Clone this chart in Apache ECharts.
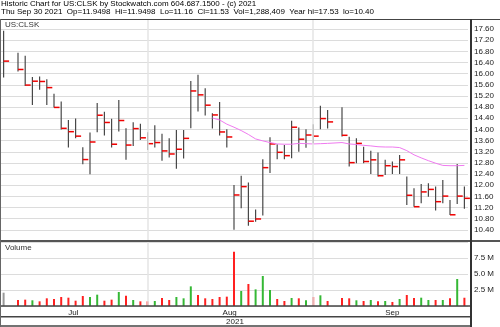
<!DOCTYPE html>
<html>
<head>
<meta charset="utf-8">
<script src="https://cdn.jsdelivr.net/npm/echarts@6/dist/echarts.min.js"></script>
<style>
html,body{margin:0;padding:0;background:#fff;}
#chart{width:500px;height:327px;}
</style>
</head>
<body>
<div id="chart"></div>
<script>
// Trading-day slots (weekdays), 2021-07-02 .. 2021-09-30
const categories = [
 '2021-07-02','2021-07-05','2021-07-06','2021-07-07','2021-07-08','2021-07-09',
 '2021-07-12','2021-07-13','2021-07-14','2021-07-15','2021-07-16',
 '2021-07-19','2021-07-20','2021-07-21','2021-07-22','2021-07-23',
 '2021-07-26','2021-07-27','2021-07-28','2021-07-29','2021-07-30',
 '2021-08-02','2021-08-03','2021-08-04','2021-08-05','2021-08-06',
 '2021-08-09','2021-08-10','2021-08-11','2021-08-12','2021-08-13',
 '2021-08-16','2021-08-17','2021-08-18','2021-08-19','2021-08-20',
 '2021-08-23','2021-08-24','2021-08-25','2021-08-26','2021-08-27',
 '2021-08-30','2021-08-31',
 '2021-09-01','2021-09-02','2021-09-03',
 '2021-09-06','2021-09-07','2021-09-08','2021-09-09','2021-09-10',
 '2021-09-13','2021-09-14','2021-09-15','2021-09-16','2021-09-17',
 '2021-09-20','2021-09-21','2021-09-22','2021-09-23','2021-09-24',
 '2021-09-27','2021-09-28','2021-09-29','2021-09-30'
];
const highs = [
 17.54,null,16.75,16.64,15.88,15.90,15.80,15.28,15.00,14.34,14.39,13.36,13.89,14.95,14.63,14.38,15.06,14.04,14.26,14.20,13.90,
 14.15,13.85,13.68,13.98,13.98,15.74,15.96,15.48,14.58,14.98,14.01,12.01,12.34,12.10,11.13,12.93,13.72,13.47,13.44,14.31,14.07,14.01,
 14.19,14.85,14.70,null,14.80,13.74,13.68,13.38,13.24,13.17,12.91,12.85,13.08,12.31,11.89,12.04,12.07,11.95,12.19,11.47,12.76,11.95
];
const lows = [
 15.86,null,16.08,15.56,14.88,15.42,14.88,14.79,14.00,13.35,13.68,12.75,12.39,13.90,13.78,13.35,13.93,12.91,13.41,13.62,13.26,
 13.35,12.88,12.99,12.59,12.96,14.04,14.64,14.50,14.03,13.78,13.35,10.40,11.17,10.55,10.69,10.91,12.44,12.93,12.93,12.97,13.20,13.34,
 13.50,14.01,14.03,null,13.75,12.67,12.79,12.79,12.40,12.31,12.37,12.40,12.40,11.29,11.23,11.35,11.59,11.09,11.35,10.93,11.33,11.16
];
const closes = [
 16.45,null,16.15,15.59,15.73,15.72,15.50,14.79,14.04,13.92,13.76,12.92,13.55,14.51,14.25,13.47,14.32,13.44,14.03,13.70,13.49,
 13.53,13.23,13.12,13.29,13.68,15.38,15.24,14.87,14.52,13.91,13.73,11.65,11.95,10.71,10.79,12.63,13.48,13.18,13.06,14.08,13.65,13.80,
 13.76,14.39,14.27,null,13.79,12.81,13.50,12.85,12.91,12.34,12.70,12.67,12.91,11.64,11.23,11.76,11.85,11.41,11.61,10.94,11.61,11.53
];
const movingAvg = [
 null,null,null,null,null,null,null,null,null,null,null,null,null,null,null,null,null,null,null,null,null,
 null,null,null,null,null,null,null,null,14.41,14.34,14.19,14.08,13.96,13.82,13.66,13.59,13.53,13.48,13.47,13.47,13.50,13.49,
 13.48,13.49,13.50,null,13.53,13.48,13.46,13.43,13.41,13.38,13.37,13.37,13.35,13.24,13.09,12.98,12.88,12.79,12.71,12.70,12.70,12.71
];
// volume in millions of shares
const volumes = [
 2.08,null,0.94,0.99,0.89,0.73,1.20,1.09,1.41,1.30,0.83,1.56,1.41,1.77,0.83,0.99,2.19,1.61,0.94,0.73,0.73,
 0.78,1.25,0.94,1.41,1.20,3.07,1.72,1.20,1.09,1.41,1.46,8.49,2.34,3.44,2.60,4.69,2.50,1.09,0.78,1.25,1.20,0.89,
 1.41,1.67,0.78,null,1.25,1.20,0.89,0.78,0.94,0.73,0.78,0.63,1.09,1.72,1.25,1.30,0.94,0.94,0.94,1.20,4.22,1.29
];
const monthLabels = ['Jul','Aug','Sep'];
const monthLabelPos = [9.7, 31.4, 54];
const gridLineDays = ['2021-07-30','2021-09-01'];
const priceTicks = {min:10, max:17.96, step:0.4};
const volumeTicks = {min:0, max:10, step:2.5};
const header1 = 'Historic Chart for US:CLSK by Stockwatch.com 604.687.1500 - (c) 2021';
const header2 = 'Thu Sep 30 2021  Op=11.9498  Hi=11.9498  Lo=11.16  Cl=11.53  Vol=1,288,409  Year hi=17.53  lo=10.40';

const FONT = '"Liberation Sans", Arial, sans-serif';

const ohlc = [];
for (let i = 0; i < categories.length; i++) {
  if (highs[i] != null) ohlc.push([i, highs[i], lows[i], closes[i]]);
}
let prevClose = null;
const volData = volumes.map((v, i) => {
  if (v == null) return null;
  let color = '#999999';
  if (prevClose != null) color = closes[i] > prevClose ? '#35b835' : '#ff2020';
  prevClose = closes[i];
  return {value: v, itemStyle: {color: color}};
});

const chart = echarts.init(document.getElementById('chart'), null, {renderer: 'canvas'});

const hLine = (x1, y1, x2, y2, w, c) => ({type:'line', silent:true, z:100,
  shape:{x1:x1, y1:y1, x2:x2, y2:y2}, style:{stroke:c, lineWidth:w}});

chart.setOption({
  animation: false,
  backgroundColor: '#ffffff',
  grid: [
    {left: 0, right: 32, top: 19, bottom: 86},
    {left: 0, right: 32, top: 242, bottom: 21}
  ],
  xAxis: [
    {type:'category', gridIndex:0, data:categories, boundaryGap:true,
     axisLine:{show:false}, axisTick:{show:false}, axisLabel:{show:false}, splitLine:{show:false}},
    {type:'category', gridIndex:1, data:categories, boundaryGap:true, position:'top',
     axisLine:{show:false}, axisTick:{show:false}, axisLabel:{show:false}, splitLine:{show:false}},
    {type:'value', gridIndex:1, min:-0.5, max:categories.length - 0.5, position:'bottom',
     axisLine:{show:false}, axisTick:{show:false}, splitLine:{show:false},
     axisLabel:{customValues: monthLabelPos, margin:3, fontSize:8, fontFamily:FONT, color:'#222',
       formatter: function (v) {
         let best = 0;
         for (let k = 0; k < monthLabelPos.length; k++) {
           if (Math.abs(monthLabelPos[k] - v) < Math.abs(monthLabelPos[best] - v)) best = k;
         }
         return monthLabels[best];
       }}}
  ],
  yAxis: [
    {type:'value', gridIndex:0, position:'right', offset:3,
     min:priceTicks.min, max:priceTicks.max, interval:priceTicks.step,
     axisLine:{show:false}, axisTick:{show:false},
     axisLabel:{margin:3, fontSize:8, fontFamily:FONT, color:'#222', showMinLabel:false, showMaxLabel:false,
       formatter: v => v.toFixed(2)},
     splitLine:{lineStyle:{color:'#dcdcdc', width:1}}},
    {type:'value', gridIndex:1, position:'right', offset:3,
     min:volumeTicks.min, max:volumeTicks.max, interval:volumeTicks.step,
     axisLine:{show:false}, axisTick:{show:false},
     axisLabel:{margin:3, fontSize:8, fontFamily:FONT, color:'#222', showMinLabel:false, showMaxLabel:false,
       formatter: v => v.toFixed(1) + ' M'},
     splitLine:{lineStyle:{color:'#dcdcdc', width:1}}}
  ],
  series: [
    {type:'line', xAxisIndex:0, yAxisIndex:0, data: categories.map(() => null), z:1, silent:true,
     markLine:{silent:true, symbol:['none','none'], label:{show:false}, animation:false,
       lineStyle:{color:'#e4e4e4', width:1.5, type:'solid'},
       data: gridLineDays.map(d => ({xAxis: d}))}},
    {type:'line', xAxisIndex:1, yAxisIndex:1, data: categories.map(() => null), z:1, silent:true,
     markLine:{silent:true, symbol:['none','none'], label:{show:false}, animation:false,
       lineStyle:{color:'#e4e4e4', width:1.5, type:'solid'},
       data: gridLineDays.map(d => ({xAxis: d}))}},
    {type:'custom', xAxisIndex:0, yAxisIndex:0, z:3, silent:true,
     data: ohlc, encode:{x:0, y:[1,2,3]},
     renderItem: function (params, api) {
       const i = api.value(0);
       const pH = api.coord([i, api.value(1)]);
       const pL = api.coord([i, api.value(2)]);
       const pC = api.coord([i, api.value(3)]);
       return {type:'group', children:[
         {type:'line', shape:{x1:pH[0], y1:pH[1], x2:pL[0], y2:pL[1]}, style:{stroke:'#484848', lineWidth:1.2}},
         {type:'line', shape:{x1:pC[0], y1:pC[1], x2:pC[0] + 5.5, y2:pC[1]}, style:{stroke:'#f00000', lineWidth:1.5}}
       ]};
     }},
    {type:'line', xAxisIndex:0, yAxisIndex:0, z:4, data: movingAvg, connectNulls:true,
     showSymbol:false, symbol:'none', silent:true,
     lineStyle:{color:'#f07af0', width:1}},
    {type:'bar', xAxisIndex:1, yAxisIndex:1, z:3, data: volData, barWidth:2, silent:true}
  ],
  graphic: [
    {type:'text', x:1, y:4, silent:true, style:{text:header1, font:'8px ' + FONT, fill:'#000', verticalAlign:'middle'}},
    {type:'text', x:1, y:11.8, silent:true, style:{text:header2, font:'8px ' + FONT, fill:'#000', verticalAlign:'middle'}},
    {type:'text', x:5, y:24.5, silent:true, style:{text:'US:CLSK', font:'8px ' + FONT, fill:'#333', verticalAlign:'middle'}},
    {type:'text', x:5, y:248, silent:true, style:{text:'Volume', font:'8px ' + FONT, fill:'#333', verticalAlign:'middle'}},
    {type:'text', x:235, y:321.5, silent:true, style:{text:'2021', font:'8px ' + FONT, fill:'#222', align:'center', verticalAlign:'middle'}},
    hLine(0, 19.5, 500, 19.5, 1, '#444'),
    hLine(0, 241, 500, 241, 2, '#555'),
    hLine(0, 306, 471, 306, 1.5, '#444'),
    hLine(0, 316.8, 471, 316.8, 1.5, '#444'),
    hLine(0, 326, 471, 326, 1.5, '#444'),
    hLine(471, 19, 471, 327, 2, '#333'),
    hLine(0.5, 19, 0.5, 327, 1, '#666')
  ]
});
</script>
</body>
</html>
